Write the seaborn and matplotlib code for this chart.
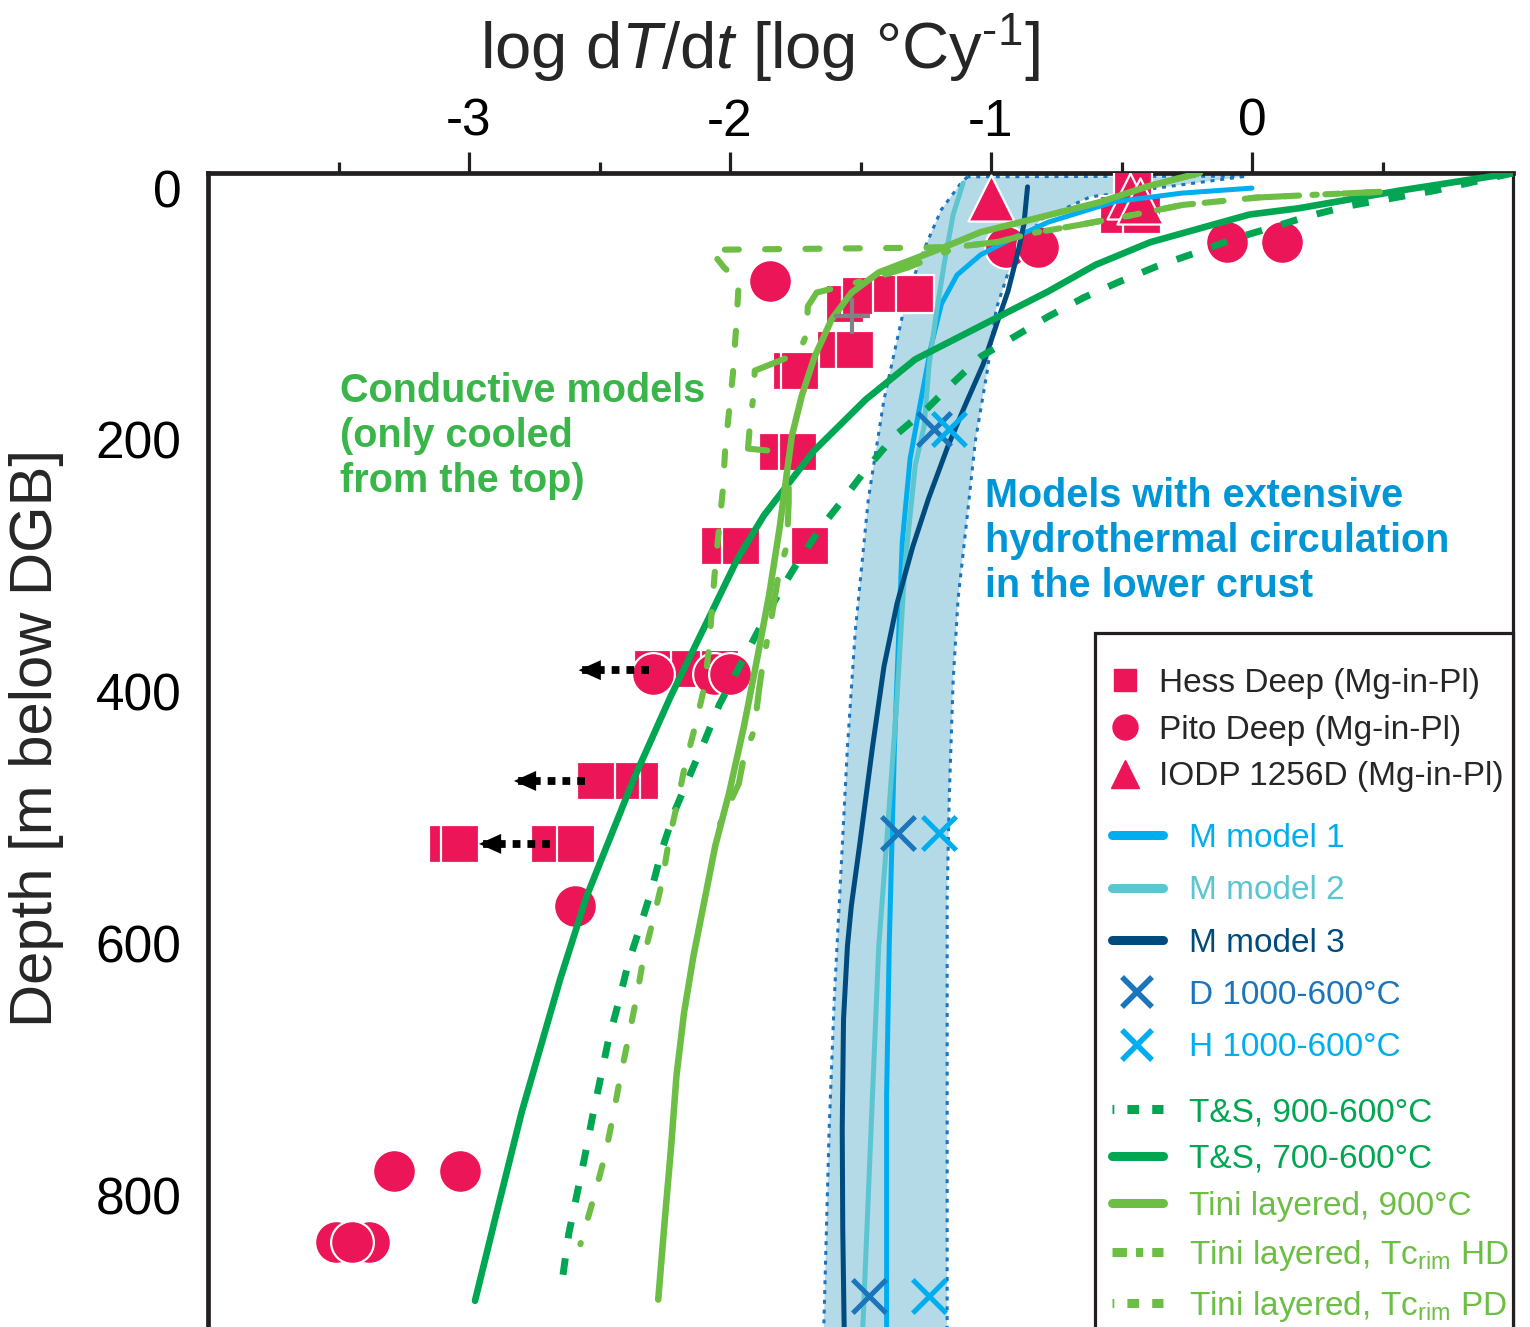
import matplotlib
matplotlib.use("Agg")
import matplotlib.pyplot as plt
from matplotlib.lines import Line2D
from matplotlib.patches import Rectangle
import seaborn as sns

# ---------------- data (x = log dT/dt, d = depth in m below DGB) ----------------
hess_x = [-0.455, -0.51, -0.42,
          -1.56, -1.50, -1.38, -1.29,
          -1.595, -1.52,
          -1.763, -1.733,
          -1.817, -1.74,
          -2.038, -1.958, -1.695,
          -2.294, -2.153, -2.038,
          -2.344, -2.416, -2.515,
          -3.08, -3.034, -2.69, -2.59]
hess_d = [-1, 21, 21,
          92, 86, 84, 84,
          129, 129,
          145, 145,
          210, 210,
          284, 284, 284,
          382, 382, 382,
          471, 471, 471,
          521, 521, 521, 521]

pito_x = [-1.847, -0.943, -0.82, -0.095, 0.115, -2.294, -2.061, -2.0,
          -2.595, -3.286, -3.034, -3.508, -3.385, -3.447]
pito_d = [74, 47, 47, 43, 43, 386, 386, 386, 570, 781, 781, 837, 837, 837]

iodp_x = [-1.0, -0.466, -0.43]
iodp_d = [8, 6, 10]

plus_x = [-1.534]
plus_d = [102]

d_cross_x = [-1.22, -1.355, -1.466]
d_cross_d = [191, 512, 880]
h_cross_x = [-1.16, -1.20, -1.237]
h_cross_d = [191, 512, 880]

arrow_d = [383, 471, 521]
arrow_start = [-2.309, -2.557, -2.691]
arrow_tip = [-2.58, -2.828, -2.962]

# band edges, both listed from top to bottom
band_left_x = [-1.09, -1.115, -1.19, -1.245, -1.30, -1.34, -1.41, -1.47, -1.52,
               -1.55, -1.58, -1.60, -1.62, -1.64, -1.645]
band_left_d = [-9, -4, 17, 43, 73, 102, 168, 247, 352, 444, 563, 642, 747, 900, 935]
band_right_x = [-0.02, -0.62, -0.81, -0.92, -0.98, -1.015, -1.06, -1.095, -1.126,
                -1.145, -1.16, -1.168, -1.168, -1.168]
band_right_d = [-9.5, 7, 25, 58, 96, 146, 201, 268, 326, 391, 484, 563, 900, 935]

m1_x = [0.0, -0.27, -0.53, -0.78, -0.91, -1.04, -1.13, -1.19, -1.23, -1.27, -1.31,
        -1.34, -1.37, -1.39, -1.40, -1.40]
m1_d = [0, 4, 11, 27, 39, 53, 69, 92, 126, 170, 215, 281, 444, 602, 721, 935]

m2_x = [-1.107, -1.145, -1.18, -1.21, -1.237, -1.256, -1.29, -1.33, -1.36, -1.40,
        -1.43, -1.46, -1.49, -1.50]
m2_d = [-4, 21, 61, 100, 140, 189, 220, 300, 405, 520, 602, 750, 900, 935]

m3_x = [-0.86, -0.874, -0.897, -0.935, -0.975, -1.03, -1.10, -1.165, -1.24, -1.30,
        -1.36, -1.41, -1.454, -1.504, -1.535, -1.55, -1.565, -1.57, -1.568, -1.563,
        -1.56]
m3_d = [-1, 29, 51, 82, 106, 140, 173, 205, 247, 285, 330, 380, 444, 523, 570,
        602, 660, 747, 826, 900, 935]

ts700_x = [1.0, 0.565, 0.18, -0.01, -0.39, -0.60, -0.78, -1.29, -1.48, -1.68, -1.87,
           -1.97, -2.08, -2.23, -2.37, -2.55, -2.65, -2.798, -2.893, -2.977]
ts700_d = [-12, 2, 16, 21, 43, 61, 82, 136, 168, 209, 260, 294, 341, 405, 470, 563,
           628, 734, 813, 884]

ts900_x = [1.0, 0.70, 0.374, 0.221, 0.08, -0.065, -0.21, -0.363, -0.504, -0.645,
           -0.78, -0.91, -1.04, -1.157, -1.244, -1.37, -1.477, -1.565, -1.653,
           -1.737, -1.813, -1.885, -1.966, -2.04, -2.095, -2.153, -2.21, -2.26,
           -2.30, -2.343, -2.39, -2.427, -2.466, -2.496, -2.527, -2.557, -2.588,
           -2.618, -2.641]
ts900_d = [-12, 2, 14, 22, 31, 40, 51, 62, 74, 87, 102, 118, 134, 157, 175, 197,
           223, 247, 270, 296, 322, 349, 381, 410, 438, 466, 494, 525, 557, 586,
           616, 647, 677, 707, 738, 770, 801, 831, 865]

tini900_x = [-0.20, -0.39, -0.58, -0.77, -1.04, -1.18, -1.317, -1.43, -1.534, -1.61,
             -1.676, -1.725, -1.763, -1.78, -1.81, -1.85, -1.897, -1.947, -2.004,
             -2.057, -2.095, -2.14, -2.176, -2.205, -2.225, -2.25, -2.275]
tini900_d = [-12, -2, 11, 21, 35, 47, 58, 67, 83, 104, 134, 165, 197, 223, 270, 323,
             375, 428, 481, 523, 563, 610, 655, 705, 760, 820, 883]

tini_pd_x = [0.489, 0.22, 0.02, -0.267, -0.473, -0.656, -0.836, -0.973, -1.126,
             -1.294, -2.076, -2.023, -1.966, -1.977, -1.989, -2.004, -2.019, -2.027,
             -2.042, -2.057, -2.069, -2.08, -2.099, -2.134, -2.172, -2.202, -2.233,
             -2.26, -2.294, -2.332, -2.359, -2.389, -2.42, -2.447, -2.477, -2.515,
             -2.573]
tini_pd_d = [3, 5.5, 7.5, 13.4, 22, 29, 35.6, 42.7, 46.6, 47.4, 49, 63, 74, 112, 148,
             178, 209, 239, 270, 302, 333, 365, 397, 428, 458, 489, 517, 551, 581,
             612, 644, 675, 706, 736, 767, 797, 839]

tini_hd_x = [0.489, 0.22, 0.02, -0.267, -0.473, -0.656, -0.836, -0.973, -1.126,
             -1.317, -1.427, -1.553, -1.668, -1.702, -1.706, -1.737, -1.832, -1.905,
             -1.912, -1.924, -1.931, -1.775, -1.775, -1.782, -1.813, -1.84, -1.874,
             -1.889, -1.908, -1.947, -1.966, -2.038]
tini_hd_d = [3, 5.5, 7.5, 13.4, 22, 29, 35.6, 42.7, 46.6, 63, 70, 77, 83, 94, 116,
             131, 139, 145, 168, 189, 207, 210, 249, 284, 306, 340, 377, 399, 431,
             452, 473, 505]

x_major = [-3, -2, -1, 0]
x_minor = [-3.5, -2.5, -1.5, -0.5, 0.5]
y_major = [0, 200, 400, 600, 800]
y_minor = [100, 300, 500, 700]

legend1_labels = ["Hess Deep (Mg-in-Pl)", "Pito Deep (Mg-in-Pl)", "IODP 1256D (Mg-in-Pl)"]
legend2_labels = ["M model 1", "M model 2", "M model 3", "D 1000-600°C", "H 1000-600°C"]
legend3_labels = ["T&S, 900-600°C", "T&S, 700-600°C", "Tini layered, 900°C",
                  r"Tini layered, Tc$_{\mathregular{rim}}$ HD",
                  r"Tini layered, Tc$_{\mathregular{rim}}$ PD"]

# ---------------- colours ----------------
PINK = "#ec1557"
C_M1 = "#00aeef"
C_M2 = "#5bc6d0"
C_M3 = "#004b7d"
C_D = "#1b75bc"
C_TS = "#00a651"
C_TINI = "#6cbe45"
C_BAND = "#b4d9e7"
C_GTXT = "#39b54a"
C_BTXT = "#0096d6"
C_GREY = "#808285"

# ---------------- style ----------------
sns.set_style("white")
plt.rcParams["font.family"] = ["Liberation Sans", "DejaVu Sans"]
plt.rcParams["mathtext.fontset"] = "custom"
plt.rcParams["mathtext.rm"] = "Liberation Sans"
plt.rcParams["mathtext.it"] = "Liberation Sans:italic"
plt.rcParams["mathtext.bf"] = "Liberation Sans:bold"
plt.rcParams["axes.unicode_minus"] = False

W, H = 1530, 1327
fig = plt.figure(figsize=(W / 100, H / 100), dpi=100)


def fx(px):
    return px / W


def fy(py):
    return 1 - py / H


ax = fig.add_axes([fx(208), fy(1365), (1513 - 208) / W, (1365 - 173) / H])
ax.set_xlim(-4, 1)
ax.set_ylim(935, -12)

# band of hydrothermal models (left edge down, right edge back up)
ax.fill(band_left_x + band_right_x[::-1], band_left_d + band_right_d[::-1],
        facecolor=C_BAND, edgecolor=C_D, linewidth=2.2, linestyle=(0, (1.3, 1.9)),
        zorder=1)

# measured data
sns.scatterplot(x=hess_x, y=hess_d, marker="s", s=740, color=PINK, edgecolor="white",
                linewidth=1.6, ax=ax, legend=False, zorder=3)
sns.scatterplot(x=iodp_x, y=iodp_d, marker="^", s=1100, color=PINK, edgecolor="white",
                linewidth=1.6, ax=ax, legend=False, zorder=3)
sns.scatterplot(x=pito_x, y=pito_d, marker="o", s=950, color=PINK, edgecolor="white",
                linewidth=1.6, ax=ax, legend=False, zorder=3)


def draw_line(xs, ds, color, lw, ls="-", cap="butt", z=4):
    sns.lineplot(x=xs, y=ds, sort=False, estimator=None, color=color, linewidth=lw,
                 linestyle=ls, dash_capstyle=cap, solid_capstyle="round",
                 solid_joinstyle="round", ax=ax, legend=False, zorder=z)


draw_line(m1_x, m1_d, C_M1, 3.6)
draw_line(m2_x, m2_d, C_M2, 3.6)
draw_line(m3_x, m3_d, C_M3, 3.6)
draw_line(ts700_x, ts700_d, C_TS, 4.8)
draw_line(ts900_x, ts900_d, C_TS, 5.0, ls=(0, (2.4, 2.9)))
draw_line(tini900_x, tini900_d, C_TINI, 4.7)
draw_line(tini_pd_x, tini_pd_d, C_TINI, 4.4, ls=(0, (2.3, 4.3)), cap="round")
draw_line(tini_hd_x, tini_hd_d, C_TINI, 4.4, ls=(0, (6.0, 4.3, 0.7, 4.3)), cap="round")

# crosses
sns.scatterplot(x=plus_x, y=plus_d, marker="+", s=700, color=C_GREY, linewidth=3.0,
                ax=ax, legend=False, zorder=6)
sns.scatterplot(x=d_cross_x, y=d_cross_d, marker="x", s=580, color=C_D, linewidth=3.6,
                ax=ax, legend=False, zorder=6)
sns.scatterplot(x=h_cross_x, y=h_cross_d, marker="x", s=580, color=C_M1, linewidth=3.6,
                ax=ax, legend=False, zorder=6)

# dotted arrows
for xs, xt, dd in zip(arrow_start, arrow_tip, arrow_d):
    sns.lineplot(x=[xs, xt], y=[dd, dd], sort=False, estimator=None, color="black",
                 linewidth=5.6, linestyle=(0, (1.0, 0.9)), ax=ax, legend=False, zorder=5)
    ax.annotate("", xy=(xt, dd), xytext=(xs, dd),
                arrowprops=dict(arrowstyle="-|>,head_length=0.8,head_width=0.36",
                                mutation_scale=20, lw=0, fc="black", ec="black",
                                shrinkA=0, shrinkB=0), zorder=5)

# axes styling
ax.xaxis.tick_top()
ax.set_xticks(x_major)
ax.set_xticks(x_minor, minor=True)
ax.set_yticks(y_major)
ax.set_yticks(y_minor, minor=True)
ax.set_xticklabels([str(v) for v in x_major])
ax.set_yticklabels([str(v) for v in y_major])
ax.tick_params(axis="both", which="major", direction="out", length=15, width=2.3,
               labelsize=37, pad=4, color="#231f20", labelcolor="black")
ax.tick_params(axis="both", which="minor", direction="out", length=8, width=2.3,
               color="#231f20")
ax.tick_params(axis="x", which="both", top=True, bottom=False, labeltop=True,
               labelbottom=False)
ax.set_xlabel("")
ax.set_ylabel("")
for side in ["top", "left"]:
    ax.spines[side].set_linewidth(3.4)
    ax.spines[side].set_color("#231f20")
ax.spines["right"].set_linewidth(2.3)
ax.spines["right"].set_color("#231f20")
ax.spines["bottom"].set_visible(False)
ax.grid(False)

# titles
fig.text(fx(760), fy(48), r"log d$\mathit{T}$/d$\mathit{t}$ [log °Cy$^{\text{-1}}$]",
         fontsize=47, ha="center", va="center")
fig.text(fx(37), fy(738), "Depth [m below DGB]", fontsize=43, rotation=90,
         ha="center", va="center")

# annotations
fig.text(fx(340), fy(436), "Conductive models\n(only cooled\nfrom the top)",
         color=C_GTXT, fontsize=28.5, fontweight="bold", ha="left", va="center",
         linespacing=1.22)
fig.text(fx(985), fy(541), "Models with extensive\nhydrothermal circulation\nin the lower crust",
         color=C_BTXT, fontsize=28.5, fontweight="bold", ha="left", va="center",
         linespacing=1.22)

# legend frame
ax.add_patch(Rectangle((fx(1095), fy(1345)), (1513 - 1095) / W, (1345 - 633) / H,
                       transform=fig.transFigure, facecolor="white", edgecolor="#231f20",
                       linewidth=2.3, zorder=8, clip_on=False))

common = dict(loc="upper left", bbox_transform=fig.transFigure, frameon=False,
              fontsize=24, borderpad=0, borderaxespad=0)

h1 = [Line2D([], [], marker="s", ls="none", color=PINK, markersize=16),
      Line2D([], [], marker="o", ls="none", color=PINK, markersize=18),
      Line2D([], [], marker="^", ls="none", color=PINK, markersize=20)]
leg1 = ax.legend(h1, legend1_labels, bbox_to_anchor=(fx(1112), fy(668)),
                 handlelength=0.77, handletextpad=0.65, labelspacing=0.47, **common)
leg1.set_zorder(9)
ax.add_artist(leg1)

LW_LEG = 6.5
h2 = [Line2D([], [], color=C_M1, lw=LW_LEG),
      Line2D([], [], color=C_M2, lw=LW_LEG),
      Line2D([], [], color=C_M3, lw=LW_LEG),
      Line2D([], [], marker="x", ls="none", color=C_D, markersize=22, mew=4),
      Line2D([], [], marker="x", ls="none", color=C_M1, markersize=22, mew=4)]
leg2 = ax.legend(h2, legend2_labels, bbox_to_anchor=(fx(1112), fy(823)),
                 handlelength=1.52, handletextpad=0.8, labelspacing=0.64,
                 labelcolor=[C_M1, C_M2, C_M3, C_D, C_M1], **common)
leg2.set_zorder(9)
ax.add_artist(leg2)

h3 = [Line2D([], [], color=C_TS, lw=LW_LEG, ls=(1.1, (1.3, 1.45))),
      Line2D([], [], color=C_TS, lw=LW_LEG),
      Line2D([], [], color=C_TINI, lw=LW_LEG),
      Line2D([], [], color=C_TINI, lw=LW_LEG, ls=(0, (1.6, 1.0, 0.8, 1.0))),
      Line2D([], [], color=C_TINI, lw=LW_LEG, ls=(1.1, (1.3, 1.45)))]
leg3 = ax.legend(h3, legend3_labels, bbox_to_anchor=(fx(1112), fy(1097)),
                 handlelength=1.52, handletextpad=0.8, labelspacing=0.48,
                 labelcolor=[C_TS, C_TS, C_TINI, C_TINI, C_TINI], **common)
leg3.set_zorder(9)

fig.savefig("out.png", dpi=100)
